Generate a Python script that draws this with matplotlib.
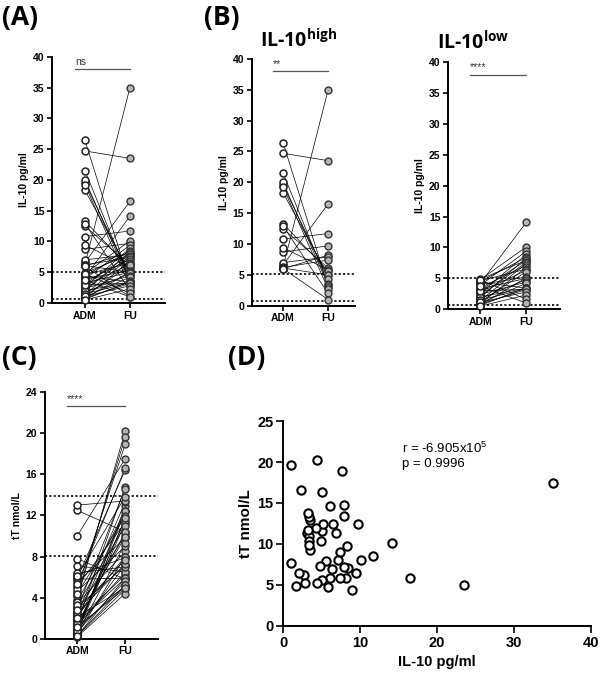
import numpy as np
import matplotlib
matplotlib.use("Agg")
import matplotlib.pyplot as plt

plt.rcParams["font.family"] = ["Liberation Sans", "DejaVu Sans"]
plt.rcParams["mathtext.default"] = "regular"

# ================= DATA =================
groups = ["ADM", "FU"]

# IL-10 (pg/ml), patients with ADM IL-10 above cut-off
il10_high_adm = [6.3, 24.7, 6.6, 10.8, 8.7, 6.0, 7.0, 6.2, 12.5, 9.4,
                 13.3, 6.1, 18.3, 19.5, 21.5, 20.0, 26.4, 19.2, 12.9, 6.0]
il10_high_fu = [35.0, 23.5, 16.5, 11.7, 9.7, 8.2, 7.9, 7.4, 6.1, 5.8,
                5.6, 5.0, 4.9, 4.4, 3.5, 3.3, 3.1, 2.7, 2.0, 1.0]

# IL-10 (pg/ml), patients with ADM IL-10 below cut-off
il10_low_adm = [4.2, 4.8, 3.9, 2.6, 4.5, 1.9, 3.1, 4.9, 2.2, 1.4, 3.5,
                0.9, 4.6, 2.8, 1.2, 4.0, 0.7, 3.3, 1.7, 2.4, 1.0, 0.6,
                2.0, 4.4, 1.5, 0.8, 3.0, 1.1, 0.5, 4.7, 3.7]
il10_low_fu = [14.1, 10.1, 9.4, 8.9, 8.4, 8.3, 7.9, 7.9, 7.6, 7.4, 7.1,
               6.8, 6.5, 6.3, 6.1, 5.2, 5.1, 5.0, 4.8, 4.4, 4.2, 3.5,
               3.4, 3.4, 3.3, 3.2, 3.2, 2.8, 2.3, 1.6, 1.0]

# total testosterone (nmol/L), same patient order (high group then low group)
tt_adm = [10.0, 2.1, 5.8, 3.4, 0.8, 7.8, 1.5, 4.6, 2.9, 0.3,
          6.2, 1.1, 12.5, 3.8, 0.5, 2.4, 5.1, 1.8, 7.1, 4.2,
          2.7, 0.4, 1.3, 0.2, 3.1, 5.5, 13.0, 0.9, 4.8, 1.6, 2.2,
          0.6, 3.6, 6.4, 0.3, 1.9, 5.9, 0.7, 2.5, 1.0, 4.4, 0.5,
          3.3, 1.4, 2.0, 6.1, 0.8, 0.3, 5.3, 1.2, 2.8]
tt_fu = [17.5, 5.0, 5.9, 8.5, 12.4, 5.8, 14.8, 9.0, 14.6, 4.8,
         7.9, 11.6, 10.4, 20.2, 12.9, 13.3, 11.3, 6.2, 6.5, 19.6,
         10.1, 8.0, 6.5, 4.4, 7.1, 9.8, 13.4, 7.2, 18.9, 5.9, 8.0,
         11.3, 12.4, 7.0, 5.9, 12.4, 16.4, 5.6, 7.3, 5.2, 11.9, 9.3,
         11.0, 10.4, 9.9, 13.8, 11.7, 5.2, 16.6, 4.9, 7.7]

il10_cutoffs = [5.1, 0.7]
tt_cutoffs = [8.1, 13.9]
corr_text = ["r = -6.905x10$^{5}$", "p = 0.9996"]
# =========================================

FU_GREY = "#b4b4b4"


def style_axis(ax, fs=7.5):
    for s in ["top", "right"]:
        ax.spines[s].set_visible(False)
    for s in ["left", "bottom"]:
        ax.spines[s].set_linewidth(1.4)
    ax.tick_params(width=1.2, length=3.5, labelsize=fs, pad=2)
    for lab in ax.get_xticklabels() + ax.get_yticklabels():
        lab.set_fontweight("bold")


def paired_panel(ax, adm, fu, xlim, ylim, yticks, cutoffs, ylabel, star,
                 star_y):
    adm = np.asarray(adm)
    fu = np.asarray(fu)
    for a, f in zip(adm, fu):
        ax.plot([0, 1], [a, f], color="black", lw=0.5, zorder=2)
    ax.plot(np.zeros_like(adm), adm, "o", ms=5, mfc="white", mec="#222222",
            mew=1.1, zorder=3, clip_on=False)
    ax.plot(np.ones_like(fu), fu, "o", ms=5, mfc=FU_GREY, mec="#333333",
            mew=1.0, zorder=3, clip_on=False)
    for c in cutoffs:
        ax.axhline(c, color="black", lw=1.2, ls=(0, (1.3, 1.3)), zorder=1)
    ax.plot([-0.22, 1.0], [star_y, star_y], color="#555555", lw=0.9,
            clip_on=False)
    ax.text(-0.22, star_y + (ylim[1] - ylim[0]) * 0.01, star, fontsize=7.5,
            ha="left", va="bottom", color="#333333")
    ax.set_xlim(*xlim)
    ax.set_ylim(*ylim)
    ax.set_xticks([0, 1])
    ax.set_xticklabels(groups)
    ax.set_yticks(yticks)
    ax.set_ylabel(ylabel, fontsize=7.5, fontweight="bold", labelpad=3)
    style_axis(ax)


fig = plt.figure(figsize=(6.0, 6.84), dpi=100)

il10_all_adm = il10_high_adm + il10_low_adm
il10_all_fu = il10_high_fu + il10_low_fu

# (A)
ax_a = fig.add_axes([0.087, 0.557, 0.188, 0.360])
paired_panel(ax_a, il10_all_adm, il10_all_fu, (-0.73, 1.78), (0, 40),
             range(0, 41, 5), il10_cutoffs, "IL-10 pg/ml", "ns", 38)

# (B) high
ax_bh = fig.add_axes([0.420, 0.553, 0.172, 0.361])
paired_panel(ax_bh, il10_high_adm, il10_high_fu, (-0.69, 1.60), (0, 40),
             range(0, 41, 5), il10_cutoffs, "IL-10 pg/ml", "**", 38)

# (B) low
ax_bl = fig.add_axes([0.747, 0.548, 0.187, 0.361])
paired_panel(ax_bl, il10_low_adm, il10_low_fu, (-0.70, 1.74), (0, 40),
             range(0, 41, 5), il10_cutoffs, "IL-10 pg/ml", "****", 38)

# (C)
ax_c = fig.add_axes([0.075, 0.066, 0.188, 0.361])
paired_panel(ax_c, tt_adm, tt_fu, (-0.67, 1.68), (0, 24),
             range(0, 25, 4), tt_cutoffs, "tT nmol/L", "****", 22.6)

# (D) scatter
ax_d = fig.add_axes([0.472, 0.0848, 0.513, 0.2997])
ax_d.plot(il10_all_fu, tt_fu, "o", ms=6, mfc="white", mec="black",
          mew=1.5, clip_on=False)
ax_d.set_xlim(0, 40)
ax_d.set_ylim(0, 25)
ax_d.set_xticks(range(0, 41, 10))
ax_d.set_yticks(range(0, 26, 5))
ax_d.set_xlabel("IL-10 pg/ml", fontsize=10.5, fontweight="bold", labelpad=4)
ax_d.set_ylabel("tT nmol/L", fontsize=11, fontweight="bold", labelpad=3)
style_axis(ax_d, fs=10.5)
ax_d.tick_params(length=5)
ax_d.text(15.5, 21.7, corr_text[0], fontsize=9.5, va="center")
ax_d.text(15.5, 19.7, corr_text[1], fontsize=9.5, va="center")

# panel letters and titles
for lab, x, y in [("(A)", 0.003, 0.975), ("(B)", 0.340, 0.975),
                  ("(C)", 0.003, 0.478), ("(D)", 0.380, 0.478)]:
    fig.text(x, y, lab, fontsize=19, fontweight="bold",
             family=["Open Sans", "DejaVu Sans"], va="center", ha="left")
fig.text(0.497, 0.940, "IL-10$^{high}$", fontsize=14, fontweight="bold",
         family=["Open Sans", "DejaVu Sans"], ha="center", va="center")
fig.text(0.788, 0.937, "IL-10$^{low}$", fontsize=14, fontweight="bold",
         family=["Open Sans", "DejaVu Sans"], ha="center", va="center")

fig.savefig("out.png", dpi=100)
